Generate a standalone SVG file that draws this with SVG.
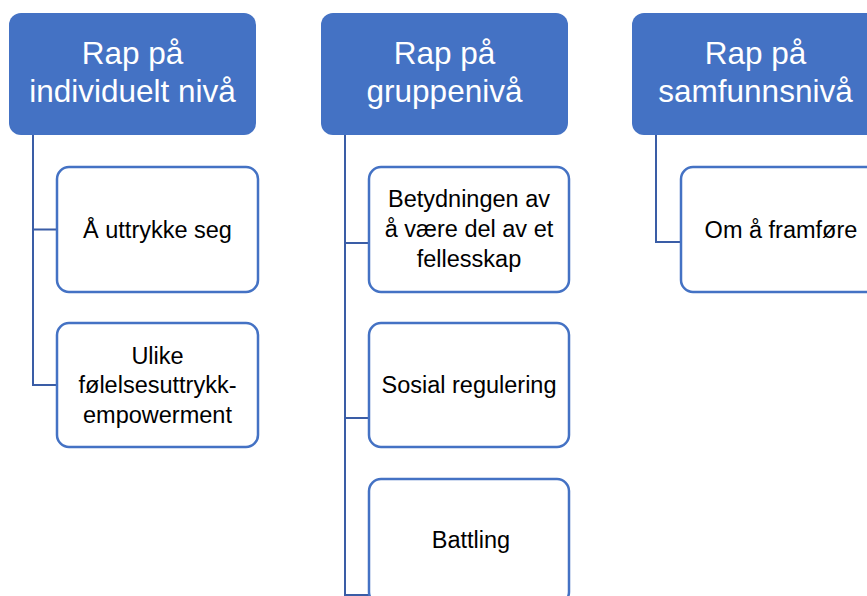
<svg xmlns="http://www.w3.org/2000/svg" width="867" height="596" viewBox="0 0 867 596">
<style>
.hdr{fill:#4472C4;stroke:none}
.box{fill:#ffffff;stroke:#4472C4;stroke-width:2.5}
.ht{font-family:"Liberation Sans",Arial,sans-serif;font-size:31.5px;fill:#ffffff;text-anchor:middle}
.ct{font-family:"Liberation Sans",Arial,sans-serif;font-size:23.5px;fill:#000000;text-anchor:middle}
.con{fill:none;stroke:#3A5DA6;stroke-width:2}
</style>
<rect width="867" height="596" fill="#ffffff"/>
<g id="connectors">
<path class="con" d="M33,135 V385 H57 M33,229.5 H57"/>
<path class="con" d="M345,135 V595 H369 M345,243 H369 M345,418 H369"/>
<path class="con" d="M656,135 V242 H681"/>
</g>
<g id="h1"><rect class="hdr" x="9" y="13" width="247" height="122" rx="12"/><text class="ht" x="132.5" y="64">Rap på</text><text class="ht" x="132.5" y="102">individuelt nivå</text></g>
<g id="h2"><rect class="hdr" x="321" y="13" width="247" height="122" rx="12"/><text class="ht" x="444.5" y="64">Rap på</text><text class="ht" x="444.5" y="102">gruppenivå</text></g>
<g id="h3"><rect class="hdr" x="632" y="13" width="247" height="122" rx="12"/><text class="ht" x="755.5" y="64">Rap på</text><text class="ht" x="755.5" y="102">samfunnsnivå</text></g>
<g id="c1a"><rect class="box" x="57" y="167" width="201" height="125" rx="12"/><text class="ct" x="157.5" y="238">Å uttrykke seg</text></g>
<g id="c1b"><rect class="box" x="57" y="323" width="201" height="124" rx="12"/><text class="ct" x="157.5" y="363.5">Ulike</text><text class="ct" x="157.5" y="393">følelsesuttrykk-</text><text class="ct" x="157.5" y="422.5">empowerment</text></g>
<g id="c2a"><rect class="box" x="369" y="167" width="200" height="125" rx="12"/><text class="ct" x="469" y="207">Betydningen av</text><text class="ct" x="469" y="237">å være del av et</text><text class="ct" x="469" y="267">fellesskap</text></g>
<g id="c2b"><rect class="box" x="369" y="323" width="200" height="124" rx="12"/><text class="ct" x="469" y="393">Sosial regulering</text></g>
<g id="c2c"><rect class="box" x="369" y="479" width="200" height="125" rx="12"/><text class="ct" x="471" y="548">Battling</text></g>
<g id="c3a"><rect class="box" x="681" y="167" width="200" height="125" rx="12"/><text class="ct" x="781" y="238">Om å framføre</text></g>
</svg>
